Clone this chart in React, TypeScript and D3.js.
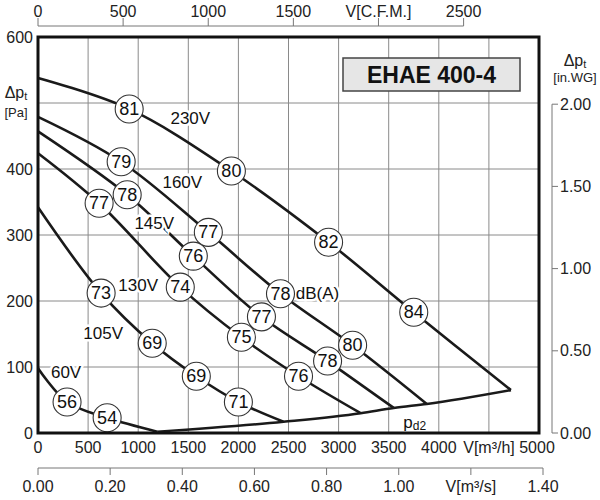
import { useEffect, useRef } from 'react';
import * as d3 from 'd3';

type Pt = [number, number];
type Mk = [number, number, number];

// fan curves: [m3/h, Pa]
const curve230: Pt[] = [[0, 538], [910, 491], [1930, 397], [2900, 289], [3750, 183], [4720, 65]];
const curve160: Pt[] = [[0, 479], [830, 411], [1700, 304], [2420, 211], [3140, 133], [3880, 44]];
const curve145: Pt[] = [[0, 457], [890, 361], [1550, 268], [2230, 176], [2890, 109], [3550, 38]];
const curve130: Pt[] = [[0, 424], [610, 348], [1420, 221], [2030, 145], [2600, 86], [3220, 30]];
const curve105: Pt[] = [[0, 342], [630, 212], [1140, 136], [1580, 86], [2000, 47], [2450, 17]];
const curve60: Pt[] = [[0, 98], [290, 47], [690, 23], [1190, 2]];
const pd2: Pt[] = [[1190, 2], [2450, 17], [3220, 30], [3550, 38], [3880, 44], [4720, 65]];

// noise markers: [m3/h, Pa, dB(A)]
const markers: Mk[] = [
  [910, 491, 81], [1930, 397, 80], [2900, 289, 82], [3750, 183, 84],
  [830, 411, 79], [1700, 304, 77], [2420, 211, 78], [3140, 133, 80],
  [890, 361, 78], [1550, 268, 76], [2230, 176, 77], [2890, 109, 78],
  [610, 348, 77], [1420, 221, 74], [2030, 145, 75], [2600, 86, 76],
  [630, 212, 73], [1140, 136, 69], [1580, 86, 69], [2000, 47, 71],
  [290, 47, 56], [690, 23, 54],
];

// curve labels: [m3/h, Pa, text]
const curveLabels: [number, number, string][] = [
  [1520, 476, '230V'], [1440, 379, '160V'], [1160, 318, '145V'],
  [1000, 224, '130V'], [650, 151, '105V'], [280, 91, '60V'], [2790, 211, 'dB(A)'],
];

const paTicks = [0, 100, 200, 300, 400, 600];
const m3hTicks = [0, 500, 1000, 1500, 2000, 2500, 3000, 3500, 4000, 5000];
const cfmTicks = [0, 500, 1000, 1500, 2000, 2500];
const m3sTicks = [0, 0.2, 0.4, 0.6, 0.8, 1.0, 1.2, 1.4];
const wgTicks = [0, 0.5, 1.0, 1.5, 2.0];

const FONT = 'Liberation Sans, Arial, sans-serif';

export default function App() {
  const ref = useRef<SVGSVGElement | null>(null);

  useEffect(() => {
    const svg = d3.select(ref.current);
    svg.selectAll('*').remove();

    const x = d3.scaleLinear().domain([0, 5000]).range([38, 539]);
    const y = d3.scaleLinear().domain([0, 600]).range([433, 37]);
    const xCfm = d3.scaleLinear().domain([0, 5000 / 1.699]).range([38, 539]);
    const xS = d3.scaleLinear().domain([0, 5000 / 3600]).range([38, 539]);
    const yWg = d3.scaleLinear().domain([0, 600 / 249.1]).range([433, 37]);

    const g = svg.append('g').attr('font-family', FONT);

    // grid
    g.selectAll('.vg').data(d3.range(500, 5000, 500)).enter().append('line')
      .attr('x1', d => x(d)).attr('x2', d => x(d)).attr('y1', y(600)).attr('y2', y(0))
      .attr('stroke', '#8a8a8a').attr('stroke-width', 1);
    g.selectAll('.hg').data(d3.range(100, 600, 100)).enter().append('line')
      .attr('x1', x(0)).attr('x2', x(5000)).attr('y1', d => y(d)).attr('y2', d => y(d))
      .attr('stroke', '#8a8a8a').attr('stroke-width', 1);

    // title box
    g.append('rect').attr('x', 343).attr('y', 58).attr('width', 177).attr('height', 33)
      .attr('fill', '#e6e6e6').attr('stroke', '#444').attr('stroke-width', 1.5);
    g.append('text').attr('x', 431.5).attr('y', 75).attr('text-anchor', 'middle')
      .attr('dominant-baseline', 'central').attr('font-weight', 'bold').attr('font-size', 23)
      .attr('fill', '#111').text('EHAE 400-4');

    // curves
    const line = d3.line<Pt>().x(d => x(d[0])).y(d => y(d[1])).curve(d3.curveCatmullRom.alpha(0.5));
    [curve230, curve160, curve145, curve130, curve105, curve60].forEach(c => {
      g.append('path').attr('d', line(c)).attr('fill', 'none')
        .attr('stroke', '#1a1a1a').attr('stroke-width', 2.6);
    });
    const pline = d3.line<Pt>().x(d => x(d[0])).y(d => y(d[1])).curve(d3.curveMonotoneX);
    g.append('path').attr('d', pline(pd2)).attr('fill', 'none')
      .attr('stroke', '#1a1a1a').attr('stroke-width', 2.6);

    // curve labels with white halo
    g.selectAll('.cl').data(curveLabels).enter().append('text')
      .attr('x', d => x(d[0])).attr('y', d => y(d[1]))
      .attr('text-anchor', 'middle').attr('dominant-baseline', 'central')
      .attr('font-size', 17).attr('fill', '#111')
      .attr('stroke', '#fff').attr('stroke-width', 5).attr('paint-order', 'stroke')
      .text(d => d[2]);

    const pd = g.append('text').attr('x', x(3760)).attr('y', y(16)).attr('text-anchor', 'middle')
      .attr('dominant-baseline', 'central').attr('font-size', 17).attr('fill', '#111');
    pd.append('tspan').text('p');
    pd.append('tspan').attr('font-size', 12).attr('dy', 4).text('d2');

    // markers
    const mk = g.selectAll('.mk').data(markers).enter().append('g')
      .attr('transform', d => `translate(${x(d[0])},${y(d[1])})`);
    mk.append('circle').attr('r', 14).attr('fill', '#fff').attr('stroke', '#333').attr('stroke-width', 1.1);
    mk.append('text').attr('text-anchor', 'middle').attr('dominant-baseline', 'central')
      .attr('font-size', 18).attr('fill', '#111').text(d => d[2]);

    // plot frame
    g.append('rect').attr('x', x(0)).attr('y', y(600)).attr('width', x(5000) - x(0)).attr('height', y(0) - y(600))
      .attr('fill', 'none').attr('stroke', '#111').attr('stroke-width', 3);

    // left Pa labels
    g.selectAll('.pl').data(paTicks).enter().append('text')
      .attr('x', 33).attr('y', d => y(d)).attr('text-anchor', 'end').attr('dominant-baseline', 'central')
      .attr('font-size', 16).attr('fill', '#222').text(d => d);
    const lp = g.append('text').attr('x', 16).attr('y', 92).attr('text-anchor', 'middle')
      .attr('dominant-baseline', 'central').attr('font-size', 16).attr('fill', '#222');
    lp.append('tspan').text('Δp');
    lp.append('tspan').attr('font-size', 11).attr('dy', 4).text('t');
    g.append('text').attr('x', 16).attr('y', 112).attr('text-anchor', 'middle')
      .attr('dominant-baseline', 'central').attr('font-size', 13).attr('fill', '#222').text('[Pa]');

    // bottom m3/h labels
    g.selectAll('.ml').data(m3hTicks).enter().append('text')
      .attr('x', d => d === 5000 ? x(d) - 2 : x(d)).attr('y', 447)
      .attr('text-anchor', 'middle').attr('dominant-baseline', 'central')
      .attr('font-size', 16).attr('fill', '#222').text(d => d);
    g.append('text').attr('x', 489).attr('y', 447).attr('text-anchor', 'middle')
      .attr('dominant-baseline', 'central').attr('font-size', 16).attr('fill', '#222').text('V[m³/h]');

    // top CFM axis
    g.append('line').attr('x1', xCfm(0)).attr('x2', xCfm(2500)).attr('y1', 26).attr('y2', 26)
      .attr('stroke', '#777').attr('stroke-width', 1);
    g.selectAll('.ct').data(cfmTicks).enter().append('line')
      .attr('x1', d => xCfm(d)).attr('x2', d => xCfm(d)).attr('y1', 18).attr('y2', 26)
      .attr('stroke', '#777').attr('stroke-width', 1);
    g.selectAll('.cl2').data(cfmTicks).enter().append('text')
      .attr('x', d => xCfm(d)).attr('y', 11).attr('text-anchor', 'middle').attr('dominant-baseline', 'central')
      .attr('font-size', 16).attr('fill', '#222').text(d => d === 2000 ? 'V[C.F.M.]' : d);

    // bottom m3/s axis
    g.append('line').attr('x1', xS(0)).attr('x2', xS(1.4)).attr('y1', 468).attr('y2', 468)
      .attr('stroke', '#777').attr('stroke-width', 1);
    g.selectAll('.st').data(m3sTicks).enter().append('line')
      .attr('x1', d => xS(d)).attr('x2', d => xS(d)).attr('y1', 468).attr('y2', 475)
      .attr('stroke', '#777').attr('stroke-width', 1);
    g.selectAll('.sl').data(m3sTicks).enter().append('text')
      .attr('x', d => xS(d)).attr('y', 486).attr('text-anchor', 'middle').attr('dominant-baseline', 'central')
      .attr('font-size', 16).attr('fill', '#222')
      .text(d => (Math.abs(d - 1.2) < 1e-9 ? 'V[m³/s]' : d.toFixed(2)));

    // right in.WG axis
    g.append('line').attr('x1', 552).attr('x2', 552).attr('y1', yWg(2)).attr('y2', yWg(0))
      .attr('stroke', '#777').attr('stroke-width', 1);
    g.selectAll('.wt').data(wgTicks).enter().append('line')
      .attr('x1', 552).attr('x2', 558).attr('y1', d => yWg(d)).attr('y2', d => yWg(d))
      .attr('stroke', '#777').attr('stroke-width', 1);
    g.selectAll('.wl').data(wgTicks).enter().append('text')
      .attr('x', 560).attr('y', d => yWg(d)).attr('dominant-baseline', 'central')
      .attr('font-size', 16).attr('fill', '#222').text(d => d.toFixed(2));
    const rp = g.append('text').attr('x', 575).attr('y', 60).attr('text-anchor', 'middle')
      .attr('dominant-baseline', 'central').attr('font-size', 16).attr('fill', '#222');
    rp.append('tspan').text('Δp');
    rp.append('tspan').attr('font-size', 11).attr('dy', 4).text('t');
    g.append('text').attr('x', 575).attr('y', 77).attr('text-anchor', 'middle')
      .attr('dominant-baseline', 'central').attr('font-size', 13).attr('fill', '#222').text('[in.WG]');
  }, []);

  return (
    <svg ref={ref} width={600} height={500}
      style={{ position: 'absolute', left: 0, top: 0, background: '#fff', display: 'block' }} />
  );
}
